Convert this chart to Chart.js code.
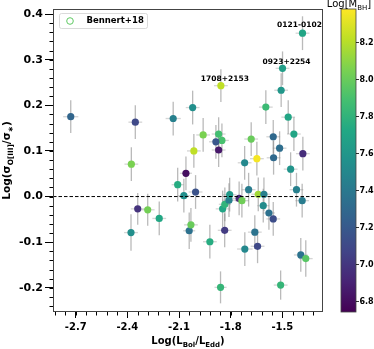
<!DOCTYPE html>
<html>
<head>
<meta charset="utf-8">
<script src="https://cdn.jsdelivr.net/npm/chart.js@4.4.1/dist/chart.umd.min.js"></script>
<style>
  html, body { margin: 0; padding: 0; background: #fff; }
  canvas { display: block; }
</style>
</head>
<body>
<canvas id="chart" width="374" height="349"></canvas>
<script>
// Log(L_Bol/L_Edd)
const lbolLedd = [-2.729, -2.354, -2.134, -2.377, -2.060, -2.108, -2.072, -2.340, -2.282, -2.215,
  -2.379, -2.041, -2.031, -2.004, -1.921, -1.859, -1.835, -1.847, -1.834, -1.810,
  -1.806, -1.751, -1.735, -1.696, -1.640, -1.607, -1.611, -1.578, -1.553, -1.660,
  -1.718, -1.644, -1.510, -1.418, -1.385, -1.393, -1.364, -1.452, -1.383, -1.499,
  -1.857, -1.507, -2.021, -1.596, -1.466, -1.960, -1.870, -1.851, -1.886, -1.870,
  -2.014, -1.681, -1.553, -1.433, -1.516, -1.381, -1.648, -1.551, -1.719];
// Log(sigma_OIII / sigma_*)
const sigmaRatio = [0.175, 0.163, 0.171, 0.071, 0.051, 0.026, 0.002, -0.027, -0.029, -0.048,
  -0.079, -0.075, -0.062, 0.010, -0.099, -0.199, -0.074, -0.027, -0.017, -0.008,
  0.004, -0.004, -0.009, 0.015, 0.005, 0.005, -0.020, -0.036, -0.049, -0.078,
  -0.115, -0.109, -0.194, 0.015, -0.009, -0.128, -0.136, 0.060, 0.358, 0.281,
  0.243, 0.233, 0.195, 0.196, 0.174, 0.135, 0.137, 0.123, 0.120, 0.102,
  0.100, 0.126, 0.131, 0.137, 0.106, 0.094, 0.083, 0.085, 0.074];
// Log(M_BH), colour of each point
const logMbh = [7.28, 7.10, 7.45, 8.05, 6.80, 7.75, 7.55, 6.98, 8.03, 7.72,
  7.55, 7.35, 8.00, 7.15, 7.75, 7.82, 7.02, 7.70, 7.80, 7.45,
  7.62, 6.92, 8.02, 7.42, 8.15, 7.45, 7.52, 7.35, 7.12, 7.36,
  7.50, 7.10, 7.82, 7.45, 7.42, 7.36, 7.95, 7.58, 7.70, 7.65,
  8.22, 7.60, 7.55, 7.85, 7.70, 8.05, 7.88, 7.90, 7.18, 6.85,
  8.22, 8.00, 7.30, 7.70, 7.33, 6.95, 8.36, 7.30, 7.50];
const xErr = [0.044, 0.040, 0.044, 0.040, 0.035, 0.035, 0.035, 0.040, 0.040, 0.040,
  0.040, 0.035, 0.040, 0.040, 0.040, 0.035, 0.040, 0.040, 0.035, 0.040,
  0.040, 0.040, 0.040, 0.040, 0.040, 0.040, 0.035, 0.035, 0.040, 0.040,
  0.045, 0.040, 0.040, 0.040, 0.040, 0.040, 0.040, 0.040, 0.040, 0.040,
  0.040, 0.040, 0.040, 0.040, 0.040, 0.040, 0.040, 0.040, 0.040, 0.040,
  0.040, 0.040, 0.040, 0.040, 0.040, 0.040, 0.040, 0.040, 0.040];
const yErr = [0.036, 0.037, 0.037, 0.037, 0.037, 0.037, 0.037, 0.035, 0.035, 0.037,
  0.040, 0.040, 0.037, 0.037, 0.037, 0.035, 0.037, 0.040, 0.037, 0.037,
  0.037, 0.037, 0.037, 0.037, 0.037, 0.037, 0.037, 0.037, 0.037, 0.037,
  0.037, 0.037, 0.032, 0.037, 0.037, 0.037, 0.040, 0.037, 0.037, 0.037,
  0.036, 0.037, 0.037, 0.037, 0.037, 0.037, 0.037, 0.037, 0.037, 0.037,
  0.037, 0.037, 0.037, 0.037, 0.037, 0.037, 0.037, 0.037, 0.037];

const labelNames = ['0121-0102', '0923+2254', '1708+2153'];
const labelIdx = [38, 39, 40];

const xTicks = [-2.7, -2.4, -2.1, -1.8, -1.5];
const yTicks = [-0.2, -0.1, 0.0, 0.1, 0.2, 0.3, 0.4];
const cbTicks = [6.8, 7.0, 7.2, 7.4, 7.6, 7.8, 8.0, 8.2];
const cbMin = 6.74, cbMax = 8.38;

// viridis
const viridis = ['#440154', '#482475', '#414487', '#355f8d', '#2a788e', '#21918c', '#22a884', '#44bf70', '#7ad151', '#bddf26', '#fde725'];
function hex(c) { return [1, 3, 5].map(i => parseInt(c.substr(i, 2), 16)); }
function cmap(v) {
  let t = (v - cbMin) / (cbMax - cbMin);
  t = Math.max(0, Math.min(1, t)) * 10;
  const i = Math.min(9, Math.floor(t)), f = t - i;
  const a = hex(viridis[i]), b = hex(viridis[i + 1]);
  return 'rgb(' + a.map((c, k) => Math.round(c + (b[k] - c) * f)).join(',') + ')';
}

const FONT = '"DejaVu Sans", sans-serif';

// text with subscripts
function richText(ctx, parts, x, y, size, weight, align) {
  const w = parts.map(p => {
    ctx.font = weight + ' ' + (p.sub ? size * 0.7 : size) + 'px ' + FONT;
    return ctx.measureText(p.t).width;
  });
  const total = w.reduce((a, b) => a + b, 0);
  let cx = align === 'center' ? x - total / 2 : x;
  ctx.textAlign = 'left';
  ctx.textBaseline = 'alphabetic';
  parts.forEach((p, i) => {
    ctx.font = weight + ' ' + (p.sub ? size * 0.7 : size) + 'px ' + FONT;
    ctx.fillText(p.t, cx, p.sub ? y + size * 0.25 : y);
    cx += w[i];
  });
}

const extras = {
  id: 'extras',
  beforeDatasetsDraw(chart) {
    const ctx = chart.ctx, xs = chart.scales.x, ys = chart.scales.y;
    ctx.save();
    ctx.lineWidth = 1.3;
    lbolLedd.forEach((xv, i) => {
      const px = xs.getPixelForValue(xv), py = ys.getPixelForValue(sigmaRatio[i]);
      ctx.strokeStyle = 'rgba(150,150,150,0.4)';
      ctx.beginPath();
      ctx.moveTo(xs.getPixelForValue(xv - xErr[i]), py);
      ctx.lineTo(xs.getPixelForValue(xv + xErr[i]), py);
      ctx.stroke();
      ctx.strokeStyle = 'rgba(140,140,140,0.6)';
      ctx.beginPath();
      ctx.moveTo(px, ys.getPixelForValue(sigmaRatio[i] - yErr[i]));
      ctx.lineTo(px, ys.getPixelForValue(sigmaRatio[i] + yErr[i]));
      ctx.stroke();
    });
    ctx.restore();
  },
  afterDraw(chart) {
    const ctx = chart.ctx, xs = chart.scales.x, ys = chart.scales.y, cb = chart.scales.cb;
    const a = chart.chartArea;
    ctx.save();

    // zero line
    const y0 = ys.getPixelForValue(0);
    ctx.strokeStyle = '#000';
    ctx.lineWidth = 1;
    ctx.setLineDash([3.5, 2]);
    ctx.beginPath();
    ctx.moveTo(a.left, y0);
    ctx.lineTo(a.right, y0);
    ctx.stroke();
    ctx.setLineDash([]);

    // frame
    ctx.strokeStyle = '#444';
    ctx.lineWidth = 1;
    ctx.strokeRect(a.left + 0.5, a.top + 0.5, a.right - a.left - 1, a.bottom - a.top - 1);

    // minor ticks
    ctx.strokeStyle = '#000';
    ctx.beginPath();
    for (let k = 0; k <= 25; k++) {
      const v = -2.82 + k * 0.06;
      const px = Math.round(xs.getPixelForValue(v)) + 0.5;
      ctx.moveTo(px, a.bottom);
      ctx.lineTo(px, a.bottom + 3.5);
    }
    for (let k = 0; k <= 32; k++) {
      const v = -0.24 + k * 0.02;
      const py = Math.round(ys.getPixelForValue(v)) + 0.5;
      ctx.moveTo(a.left, py);
      ctx.lineTo(a.left - 3.5, py);
    }
    ctx.stroke();

    // point labels
    ctx.fillStyle = '#000';
    ctx.font = 'bold 7.5px ' + FONT;
    ctx.textAlign = 'center';
    ctx.textBaseline = 'middle';
    labelIdx.forEach((i, k) => {
      const px = xs.getPixelForValue(lbolLedd[i]);
      const py = ys.getPixelForValue(sigmaRatio[i]);
      const dx = [-3, 4, 4][k];
      const dy = [-8, -6.5, -6.5][k];
      ctx.fillText(labelNames[k], px + dx, py + dy);
    });

    // legend
    ctx.fillStyle = 'rgba(255,255,255,0.8)';
    ctx.strokeStyle = '#d0d0d0';
    ctx.lineWidth = 0.8;
    ctx.beginPath();
    ctx.roundRect(59.5, 13.5, 88, 15, 2);
    ctx.fill();
    ctx.stroke();
    ctx.strokeStyle = '#5ec962';
    ctx.lineWidth = 1;
    ctx.beginPath();
    ctx.arc(70, 21, 3.3, 0, Math.PI * 2);
    ctx.stroke();
    ctx.fillStyle = '#000';
    ctx.font = 'bold 8.5px ' + FONT;
    ctx.textAlign = 'left';
    ctx.textBaseline = 'middle';
    ctx.fillText('Bennert+18', 86.5, 21);

    // colorbar
    const cx0 = 341, cw = 15;
    const top = cb.getPixelForValue(cbMax), bot = cb.getPixelForValue(cbMin);
    const g = ctx.createLinearGradient(0, bot, 0, top);
    viridis.forEach((c, i) => g.addColorStop(i / 10, c));
    ctx.fillStyle = g;
    ctx.fillRect(cx0, top, cw, bot - top);
    ctx.strokeStyle = '#444';
    ctx.lineWidth = 0.8;
    ctx.strokeRect(cx0, top, cw, bot - top);
    ctx.fillStyle = '#000';
    ctx.strokeStyle = '#000';
    ctx.font = 'bold 8px ' + FONT;
    ctx.textAlign = 'left';
    ctx.textBaseline = 'middle';
    cbTicks.forEach(v => {
      const py = Math.round(cb.getPixelForValue(v)) + 0.5;
      ctx.beginPath();
      ctx.moveTo(cx0 + cw, py);
      ctx.lineTo(cx0 + cw + 3, py);
      ctx.stroke();
      ctx.fillText(v.toFixed(1), cx0 + cw + 3.5, py);
    });
    richText(ctx, [{t: 'Log[M'}, {t: 'BH', sub: true}, {t: ']'}], 349, 7, 10, 'normal', 'center');

    // axis titles
    richText(ctx, [{t: 'Log(L'}, {t: 'Bol', sub: true}, {t: '/L'}, {t: 'Edd', sub: true}, {t: ')'}],
      (a.left + a.right) / 2, 344, 10, 'bold', 'center');
    ctx.translate(10, (a.top + a.bottom) / 2);
    ctx.rotate(-Math.PI / 2);
    richText(ctx, [{t: 'Log(σ'}, {t: 'O[III]', sub: true}, {t: '/σ'}, {t: '∗', sub: true}, {t: ')'}],
      0, 0, 10.5, 'bold', 'center');
    ctx.restore();
  }
};

new Chart(document.getElementById('chart'), {
  type: 'scatter',
  data: {
    datasets: [{
      data: lbolLedd.map((x, i) => ({x: x, y: sigmaRatio[i]})),
      pointBackgroundColor: logMbh.map(cmap),
      pointBorderWidth: 0,
      pointRadius: 3.6,
      pointHoverRadius: 3.6
    }]
  },
  options: {
    responsive: false,
    animation: false,
    devicePixelRatio: 1,
    layout: { padding: { top: 9, right: 51, left: 0, bottom: 0 } },
    plugins: { legend: { display: false }, tooltip: { enabled: false } },
    scales: {
      x: {
        type: 'linear',
        min: -2.832, max: -1.264,
        afterBuildTicks: s => { s.ticks = xTicks.map(v => ({value: v})); },
        afterFit: s => { s.height = 37; },
        border: { display: false },
        grid: { drawOnChartArea: false, drawTicks: true, tickLength: 6, color: '#000' },
        ticks: { color: '#000', padding: 3, font: { family: FONT, weight: 'bold', size: 10 },
          callback: v => v.toFixed(1), maxRotation: 0 }
      },
      y: {
        type: 'linear',
        min: -0.253, max: 0.411,
        afterBuildTicks: s => { s.ticks = yTicks.map(v => ({value: v})); },
        afterFit: s => { s.width = 53; },
        border: { display: false },
        grid: { drawOnChartArea: false, drawTicks: true, tickLength: 8, color: '#000' },
        ticks: { color: '#000', padding: 2, font: { family: FONT, weight: 'bold', size: 11 },
          callback: v => v.toFixed(1) }
      },
      cb: {
        type: 'linear',
        position: 'right',
        display: false,
        min: cbMin, max: cbMax
      }
    }
  },
  plugins: [extras]
});
</script>
</body>
</html>
